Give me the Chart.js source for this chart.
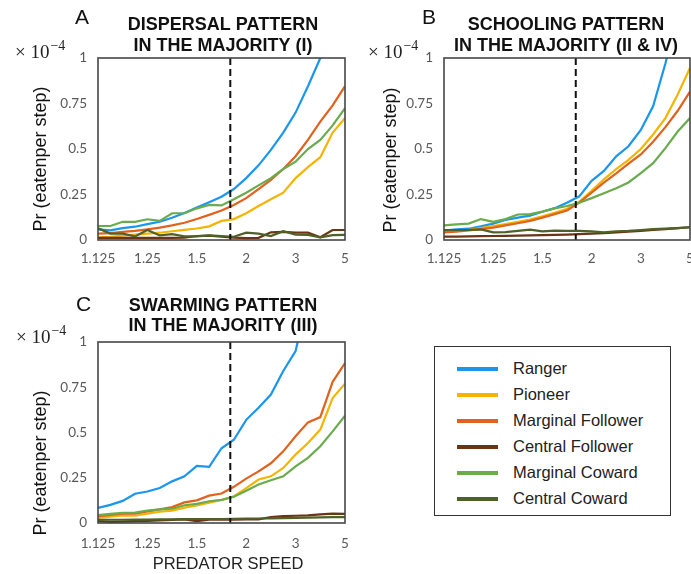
<!DOCTYPE html>
<html>
<head>
<meta charset="utf-8">
<script src="https://cdn.jsdelivr.net/npm/chart.js@4.4.0/dist/chart.umd.min.js"></script>
<style>
  body { margin: 0; background: #fff; }
  #fig { position: relative; width: 691px; height: 574px; overflow: hidden; background: #fff;
         font-family: "Liberation Sans", Arial, sans-serif; }
  #fig canvas { position: absolute; }
  #legend { position: absolute; left: 434px; top: 346px; width: 235px; height: 168px;
            border: 1.5px solid #333; background: #fff; }
  #legend .row { position: absolute; left: 0; height: 26px; width: 100%; }
  #legend .swatch { position: absolute; left: 22px; top: 11px; width: 41px; height: 4px; }
  #legend .name { position: absolute; left: 78px; top: 3px; font-size: 16.5px; color: #222; white-space: nowrap; }
</style>
</head>
<body>
<div id="fig">
  <canvas id="chartA" width="352" height="275" style="left:0;top:0"></canvas>
  <canvas id="chartB" width="346" height="275" style="left:345px;top:0"></canvas>
  <canvas id="chartC" width="352" height="294" style="left:0;top:280px"></canvas>
  <div id="legend"></div>
</div>
<script>
// predator speeds used in the runs (evenly spaced on log2(speed - 1))
const speeds = [1.125, 1.1487, 1.1768, 1.2102, 1.25, 1.2973, 1.3536, 1.4204, 1.5, 1.5946, 1.7071,
                1.8409, 2, 2.1892, 2.4142, 2.6818, 3, 3.3784, 3.8284, 4.3636, 5];
const speedTicks = [1.125, 1.25, 1.5, 2, 3, 5];
const probTicks = [0, 0.25, 0.5, 0.75, 1];
const thresholdSpeed = 1.8;

const roleNames = ['Ranger', 'Pioneer', 'Marginal Follower', 'Central Follower', 'Marginal Coward', 'Central Coward'];
const roleColors = ['#1a96ee', '#f4b400', '#e0621c', '#6b3414', '#6aab4e', '#4e6127'];

// Pr(eaten per step), x 10^-4 -- dispersal pattern (I)
const dispRanger   = [0.058, 0.053, 0.065, 0.073, 0.087, 0.1, 0.122, 0.148, 0.178, 0.208, 0.238, 0.28, 0.34, 0.41, 0.495, 0.59, 0.70, 0.845, 1.0, 1.2, 1.45];
const dispPioneer  = [0.015, 0.018, 0.024, 0.03, 0.035, 0.04, 0.048, 0.056, 0.063, 0.075, 0.105, 0.115, 0.147, 0.187, 0.224, 0.26, 0.34, 0.40, 0.455, 0.59, 0.67];
const dispMargFol  = [0.035, 0.038, 0.045, 0.05, 0.058, 0.068, 0.08, 0.095, 0.115, 0.138, 0.162, 0.192, 0.23, 0.28, 0.33, 0.39, 0.46, 0.55, 0.65, 0.74, 0.845];
const dispCentFol  = [0.012, 0.012, 0.012, 0.012, 0.012, 0.012, 0.012, 0.013, 0.022, 0.024, 0.018, 0.013, 0.01, 0.012, 0.042, 0.045, 0.04, 0.04, 0.015, 0.055, 0.055];
const dispMargCow  = [0.077, 0.077, 0.1, 0.1, 0.114, 0.105, 0.147, 0.147, 0.174, 0.193, 0.19, 0.224, 0.26, 0.30, 0.34, 0.39, 0.43, 0.50, 0.55, 0.63, 0.725];
const dispCentCow  = [0.064, 0.035, 0.035, 0.02, 0.055, 0.025, 0.032, 0.02, 0.02, 0.025, 0.022, 0.018, 0.04, 0.035, 0.022, 0.048, 0.03, 0.028, 0.015, 0.027, 0.028];

// schooling pattern (II & IV)
const schoRanger   = [0.052, 0.058, 0.062, 0.075, 0.09, 0.11, 0.123, 0.134, 0.155, 0.175, 0.205, 0.24, 0.325, 0.38, 0.46, 0.515, 0.605, 0.735, 0.97, 1.25, 1.5];
const schoPioneer  = [0.048, 0.05, 0.055, 0.065, 0.077, 0.088, 0.1, 0.112, 0.13, 0.15, 0.172, 0.21, 0.27, 0.333, 0.39, 0.44, 0.5, 0.58, 0.67, 0.80, 0.945];
const schoMargFol  = [0.042, 0.046, 0.053, 0.06, 0.068, 0.08, 0.092, 0.105, 0.123, 0.142, 0.162, 0.205, 0.26, 0.315, 0.366, 0.42, 0.47, 0.54, 0.62, 0.71, 0.815];
const schoCentFol  = [0.018, 0.019, 0.02, 0.021, 0.022, 0.023, 0.024, 0.025, 0.027, 0.028, 0.03, 0.032, 0.035, 0.038, 0.042, 0.046, 0.05, 0.055, 0.06, 0.065, 0.07];
const schoMargCow  = [0.08, 0.086, 0.09, 0.115, 0.1, 0.115, 0.14, 0.142, 0.156, 0.174, 0.187, 0.205, 0.23, 0.257, 0.284, 0.316, 0.367, 0.422, 0.505, 0.596, 0.67];
const schoCentCow  = [0.055, 0.055, 0.055, 0.058, 0.042, 0.043, 0.05, 0.057, 0.047, 0.052, 0.05, 0.05, 0.047, 0.042, 0.048, 0.05, 0.055, 0.06, 0.062, 0.065, 0.07];

// swarming pattern (III)
const swarRanger   = [0.083, 0.1, 0.122, 0.162, 0.174, 0.193, 0.23, 0.258, 0.315, 0.31, 0.413, 0.46, 0.57, 0.637, 0.71, 0.84, 0.95, 1.25, 1.5, 1.7, 1.9];
const swarPioneer  = [0.028, 0.035, 0.042, 0.04, 0.052, 0.062, 0.068, 0.085, 0.097, 0.112, 0.127, 0.147, 0.193, 0.24, 0.258, 0.304, 0.378, 0.442, 0.516, 0.69, 0.77];
const swarMargFol  = [0.038, 0.045, 0.052, 0.052, 0.064, 0.075, 0.088, 0.114, 0.125, 0.151, 0.163, 0.2, 0.245, 0.285, 0.33, 0.396, 0.479, 0.556, 0.585, 0.78, 0.884];
const swarCentFol  = [0.01, 0.006, 0.008, 0.01, 0.012, 0.015, 0.017, 0.02, 0.01, 0.018, 0.018, 0.018, 0.02, 0.02, 0.033, 0.038, 0.04, 0.042, 0.048, 0.052, 0.05];
const swarMargCow  = [0.044, 0.05, 0.056, 0.058, 0.068, 0.075, 0.079, 0.098, 0.106, 0.12, 0.128, 0.145, 0.178, 0.213, 0.236, 0.258, 0.313, 0.36, 0.424, 0.506, 0.593];
const swarCentCow  = [0.018, 0.018, 0.018, 0.019, 0.019, 0.02, 0.02, 0.021, 0.022, 0.022, 0.022, 0.023, 0.024, 0.025, 0.026, 0.027, 0.028, 0.03, 0.031, 0.032, 0.033];

const tickFont = { family: 'Lato', size: 13.5 };
const tickColor = '#595959';

function toPoints(values) {
  return values.map((v, i) => ({ x: Math.log2(speeds[i] - 1), y: v }));
}

function drawExponent(ctx, x, y) {
  ctx.font = '19px "Liberation Serif", serif';
  ctx.textAlign = 'left';
  ctx.textBaseline = 'alphabetic';
  ctx.fillStyle = '#222';
  ctx.fillText('\u00d7 10', x, y);
  const w = ctx.measureText('\u00d7 10').width;
  ctx.font = '14px "Liberation Serif", serif';
  ctx.fillText('\u2212' + '4', x + w + 1, y - 8);
}

// frame, dashed threshold and panel texts
function decoPlugin(p) {
  return {
    id: 'deco',
    afterDatasetsDraw(chart) {
      const ctx = chart.ctx, a = chart.chartArea;
      const tx = chart.scales.x.getPixelForValue(Math.log2(thresholdSpeed - 1));
      ctx.save();
      ctx.strokeStyle = '#111';
      ctx.lineWidth = 2;
      ctx.setLineDash([7, 4]);
      ctx.beginPath();
      ctx.moveTo(tx, a.top);
      ctx.lineTo(tx, a.bottom);
      ctx.stroke();
      ctx.setLineDash([]);
      ctx.strokeStyle = '#474747';
      ctx.lineWidth = 1.6;
      ctx.strokeRect(a.left, a.top, a.right - a.left, a.bottom - a.top);
      ctx.restore();
    },
    afterDraw(chart) {
      const ctx = chart.ctx;
      ctx.save();
      ctx.fillStyle = '#111';
      ctx.font = '21px "Liberation Sans", Arial, sans-serif';
      ctx.textAlign = 'left';
      ctx.textBaseline = 'middle';
      ctx.fillText(p.letter, p.letterX, p.letterY);

      ctx.font = 'bold 18px "Liberation Sans", Arial, sans-serif';
      ctx.textAlign = 'center';
      ctx.fillText(p.title[0], p.titleX, p.titleY[0]);
      ctx.fillText(p.title[1], p.titleX, p.titleY[1]);

      drawExponent(ctx, p.expX, p.expY);

      ctx.fillStyle = '#111';
      ctx.font = '18px "Liberation Sans", Arial, sans-serif';
      ctx.textAlign = 'center';
      ctx.textBaseline = 'middle';
      ctx.save();
      ctx.translate(p.yTitleX, p.yTitleY);
      ctx.rotate(-Math.PI / 2);
      ctx.fillText('Pr (eatenper step)', 0, 0);
      ctx.restore();

      if (p.xTitle) {
        ctx.font = '16.5px "Liberation Sans", Arial, sans-serif';
        ctx.fillStyle = '#222';
        ctx.fillText(p.xTitle, p.xTitleX, p.xTitleY);
      }
      ctx.restore();
    }
  };
}

function makePanel(canvasId, series, p) {
  const datasets = series.map((values, i) => ({
    label: roleNames[i],
    data: toPoints(values),
    borderColor: roleColors[i],
    backgroundColor: roleColors[i],
    borderWidth: 2.2,
    pointRadius: 0,
    tension: 0,
    fill: false,
    order: series.length - i
  }));

  return new Chart(document.getElementById(canvasId), {
    type: 'line',
    data: { datasets: datasets },
    options: {
      responsive: false,
      animation: false,
      devicePixelRatio: 1,
      layout: { padding: { left: 0, top: p.padTop, right: p.padRight, bottom: 0 } },
      plugins: { legend: { display: false }, tooltip: { enabled: false }, title: { display: false } },
      scales: {
        x: {
          type: 'linear',
          min: -3,
          max: 2,
          grid: { display: false, drawTicks: false },
          border: { display: false },
          afterBuildTicks: s => { s.ticks = speedTicks.map(v => ({ value: Math.log2(v - 1) })); },
          ticks: {
            callback: (v, i) => String(speedTicks[i]),
            autoSkip: false,
            maxRotation: 0,
            padding: p.xPad,
            font: tickFont,
            color: tickColor
          },
          afterFit: s => { s.height = p.xHeight; s.paddingLeft = 0; s.paddingRight = 0; }
        },
        y: {
          min: 0,
          max: 1,
          grid: { display: false, drawTicks: false },
          border: { display: false },
          afterBuildTicks: s => { s.ticks = probTicks.map(v => ({ value: v })); },
          ticks: {
            callback: v => String(v),
            padding: 11,
            font: tickFont,
            color: tickColor
          },
          afterFit: s => { s.width = p.yWidth; s.paddingTop = 0; s.paddingBottom = 0; }
        }
      }
    },
    plugins: [decoPlugin(p)]
  });
}

makePanel('chartA', [dispRanger, dispPioneer, dispMargFol, dispCentFol, dispMargCow, dispCentCow], {
  padTop: 58, padRight: 7, yWidth: 98, xHeight: 35, xPad: 11,
  letter: 'A', letterX: 75, letterY: 18,
  title: ['DISPERSAL PATTERN', 'IN THE MAJORITY (I)'], titleX: 223, titleY: [25, 46],
  expX: 15, expY: 58, yTitleX: 41.5, yTitleY: 159
});

makePanel('chartB', [schoRanger, schoPioneer, schoMargFol, schoCentFol, schoMargCow, schoCentCow], {
  padTop: 58, padRight: 1, yWidth: 99, xHeight: 35, xPad: 11,
  letter: 'B', letterX: 77, letterY: 18,
  title: ['SCHOOLING PATTERN', 'IN THE MAJORITY (II & IV)'], titleX: 221, titleY: [25, 46],
  expX: 23, expY: 58, yTitleX: 46.5, yTitleY: 160
});

makePanel('chartC', [swarRanger, swarPioneer, swarMargFol, swarCentFol, swarMargCow, swarCentCow], {
  padTop: 62, padRight: 7, yWidth: 98, xHeight: 51, xPad: 13,
  letter: 'C', letterX: 76, letterY: 25,
  title: ['SWARMING PATTERN', 'IN THE MAJORITY (III)'], titleX: 223, titleY: [26, 46],
  expX: 16, expY: 63, yTitleX: 41, yTitleY: 183,
  xTitle: 'PREDATOR SPEED', xTitleX: 228, xTitleY: 284
});

// legend box built from the same role names and colours
const legend = document.getElementById('legend');
roleNames.forEach((name, i) => {
  const row = document.createElement('div');
  row.className = 'row';
  row.style.top = (9 + i * 25.9) + 'px';
  const sw = document.createElement('div');
  sw.className = 'swatch';
  sw.style.background = roleColors[i];
  const label = document.createElement('div');
  label.className = 'name';
  label.textContent = name;
  row.appendChild(sw);
  row.appendChild(label);
  legend.appendChild(row);
});
</script>
</body>
</html>
